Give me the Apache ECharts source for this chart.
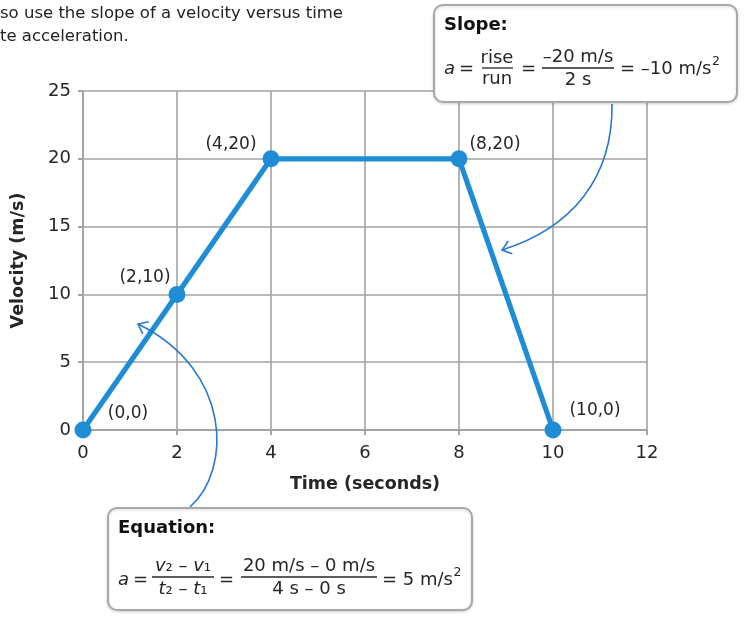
<!DOCTYPE html>
<html>
<head>
<meta charset="utf-8">
<script src="https://cdn.jsdelivr.net/npm/echarts@6/dist/echarts.min.js"></script>
<style>
html,body{margin:0;padding:0;background:#fff;}
#c{width:754px;height:625px;}
</style>
</head>
<body>
<div id="c"></div>
<script>
// ---- data ----
const times = [0, 2, 4, 8, 10];
const velocities = [0, 10, 20, 20, 0];
const pointLabels = ['(0,0)', '(2,10)', '(4,20)', '(8,20)', '(10,0)'];
const xTicks = [0, 2, 4, 6, 8, 10, 12];
const yTicks = [0, 5, 10, 15, 20, 25];
const xName = 'Time (seconds)';
const yName = 'Velocity (m/s)';
const introLines = ['so use the slope of a velocity versus time', 'te acceleration.'];

// ---- styling ----
const FONT = '"DejaVu Sans", sans-serif';
const BLUE = '#1f8dd6';
const ARROW = '#2a78d0';
const GRIDC = '#a3a3a3';
const TXT = '#262626';
const labelOffsets = [[45, -16], [-32, -17], [-40, -14], [36, -14], [42, -19]];

const chart = echarts.init(document.getElementById('c'), null, {renderer: 'canvas'});

const seriesData = times.map((t, i) => ({
  value: [t, velocities[i]],
  label: {show: true, formatter: pointLabels[i], position: 'inside', offset: labelOffsets[i],
          color: TXT, fontSize: 17, fontFamily: FONT}
}));

const mctx = document.createElement('canvas').getContext('2d');
function measure(s, size) { mctx.font = size + 'px ' + FONT; return mctx.measureText(s).width; }

function txt(x, y, s, o) {
  o = o || {};
  return {type: 'text', z: 110, style: {
    x: x, y: y, text: s, fill: o.fill || TXT,
    fontSize: o.size || 18, fontFamily: FONT, fontWeight: o.weight || 'normal', fontStyle: o.style || 'normal',
    align: o.align || 'left', verticalAlign: 'middle',
    textAlign: o.align || 'left', textVerticalAlign: 'middle'
  }};
}
function withSup(x, y, s, sup) {
  const w = measure(s, 18);
  return [txt(x, y, s), txt(x + w + 0.5, y - 7, sup, {size: 12.5})];
}
function fbar(x1, x2, y) {
  return {type: 'line', z: 110, shape: {x1: x1, y1: y, x2: x2, y2: y}, style: {stroke: TXT, lineWidth: 1.3}};
}
function box(x, y, w, h) {
  return {type: 'rect', z: 100, shape: {x: x, y: y, width: w, height: h, r: 9},
    style: {fill: '#fff', stroke: '#a8a8a8', lineWidth: 2, shadowBlur: 3, shadowColor: 'rgba(0,0,0,0.15)', shadowOffsetY: 1}};
}
function arrow(p0, p1, p2, p3) {
  const els = [];
  els.push({type: 'bezierCurve', z: 90, shape: {x1: p0[0], y1: p0[1], cpx1: p1[0], cpy1: p1[1], cpx2: p2[0], cpy2: p2[1], x2: p3[0], y2: p3[1]},
    style: {stroke: ARROW, lineWidth: 1.6, fill: null}});
  const dx = p3[0] - p2[0], dy = p3[1] - p2[1];
  const L = Math.hypot(dx, dy);
  const ux = -dx / L, uy = -dy / L;
  const a = 38 * Math.PI / 180, len = 11;
  const r1 = [ux * Math.cos(a) - uy * Math.sin(a), ux * Math.sin(a) + uy * Math.cos(a)];
  const r2 = [ux * Math.cos(-a) - uy * Math.sin(-a), ux * Math.sin(-a) + uy * Math.cos(-a)];
  els.push({type: 'polyline', z: 90, shape: {points: [[p3[0] + r1[0] * len, p3[1] + r1[1] * len], p3, [p3[0] + r2[0] * len, p3[1] + r2[1] * len]]},
    style: {stroke: ARROW, lineWidth: 1.6, fill: null}});
  return els;
}
const italicRich = {
  i: {fontStyle: 'italic', fontSize: 18, fontFamily: FONT, fill: TXT, color: TXT},
  n: {fontSize: 18, fontFamily: FONT, fill: TXT, color: TXT}
};
function richTxt(x, y, s) {
  return {type: 'text', z: 110, style: {x: x, y: y, text: s, rich: italicRich, fontSize: 18, fontFamily: FONT, fill: TXT,
    align: 'center', verticalAlign: 'middle', textAlign: 'center', textVerticalAlign: 'middle'}};
}

const graphics = [].concat(
  [txt(0, 14, introLines[0], {size: 16.5, fill: '#222'}), txt(0, 37, introLines[1], {size: 16.5, fill: '#222'})],
  arrow([612, 104], [613, 178], [572, 228], [502, 250]),
  arrow([190, 507], [232, 470], [232, 370], [138, 324]),
  [
    box(434, 5, 303, 97),
    txt(444, 25, 'Slope:', {weight: 'bold', size: 18, fill: '#111'}),
    txt(444, 69, 'a', {style: 'italic'}),
    txt(459, 69, '='),
    txt(497, 58, 'rise', {align: 'center'}),
    fbar(482, 513, 68),
    txt(497, 79, 'run', {align: 'center'}),
    txt(521, 69, '='),
    txt(578, 57, '\u201320 m/s', {align: 'center'}),
    fbar(542, 614, 68),
    txt(578, 80, '2 s', {align: 'center'})
  ],
  withSup(620, 69, '= \u201310 m/s', '2'),
  [
    box(108, 508, 364, 102),
    txt(118, 528, 'Equation:', {weight: 'bold', size: 18, fill: '#111'}),
    txt(118, 580, 'a', {style: 'italic'}),
    txt(133, 580, '='),
    richTxt(183, 566, '{i|v}{n|\u2082 \u2013 }{i|v}{n|\u2081}'),
    fbar(152, 214, 577),
    richTxt(183, 589, '{i|t}{n|\u2082 \u2013 }{i|t}{n|\u2081}'),
    txt(219, 580, '='),
    txt(309, 566, '20 m/s \u2013 0 m/s', {align: 'center'}),
    fbar(241, 377, 577),
    txt(309, 589, '4 s \u2013 0 s', {align: 'center'})
  ],
  withSup(382, 580, '= 5 m/s', '2')
);

chart.setOption({
  animation: false,
  backgroundColor: '#fff',
  grid: {left: 83, right: 107, top: 91, bottom: 195, containLabel: false},
  xAxis: {
    type: 'value', min: xTicks[0], max: xTicks[xTicks.length - 1], interval: xTicks[1] - xTicks[0],
    name: xName, nameLocation: 'middle', nameGap: 45,
    nameTextStyle: {fontFamily: FONT, fontWeight: 'bold', fontSize: 17.5, color: TXT},
    axisLine: {lineStyle: {color: GRIDC, width: 2}},
    axisTick: {show: true, length: 5, lineStyle: {color: GRIDC, width: 2}},
    splitLine: {show: true, lineStyle: {color: GRIDC, width: 1.6}},
    axisLabel: {fontFamily: FONT, fontSize: 18, color: TXT, margin: 14}
  },
  yAxis: {
    type: 'value', min: yTicks[0], max: yTicks[yTicks.length - 1], interval: yTicks[1] - yTicks[0],
    name: yName, nameLocation: 'middle', nameGap: 56,
    nameTextStyle: {fontFamily: FONT, fontWeight: 'bold', fontSize: 17.5, color: TXT},
    axisLine: {show: true, lineStyle: {color: GRIDC, width: 2}},
    axisTick: {show: true, length: 5, lineStyle: {color: GRIDC, width: 2}},
    splitLine: {show: true, lineStyle: {color: GRIDC, width: 1.6}},
    axisLabel: {fontFamily: FONT, fontSize: 18, color: TXT, margin: 12}
  },
  series: [{
    type: 'line', data: seriesData, symbol: 'circle', symbolSize: 17,
    lineStyle: {color: BLUE, width: 5.2}, itemStyle: {color: BLUE},
    z: 5, clip: false
  }],
  graphic: graphics
});
</script>
</body>
</html>
